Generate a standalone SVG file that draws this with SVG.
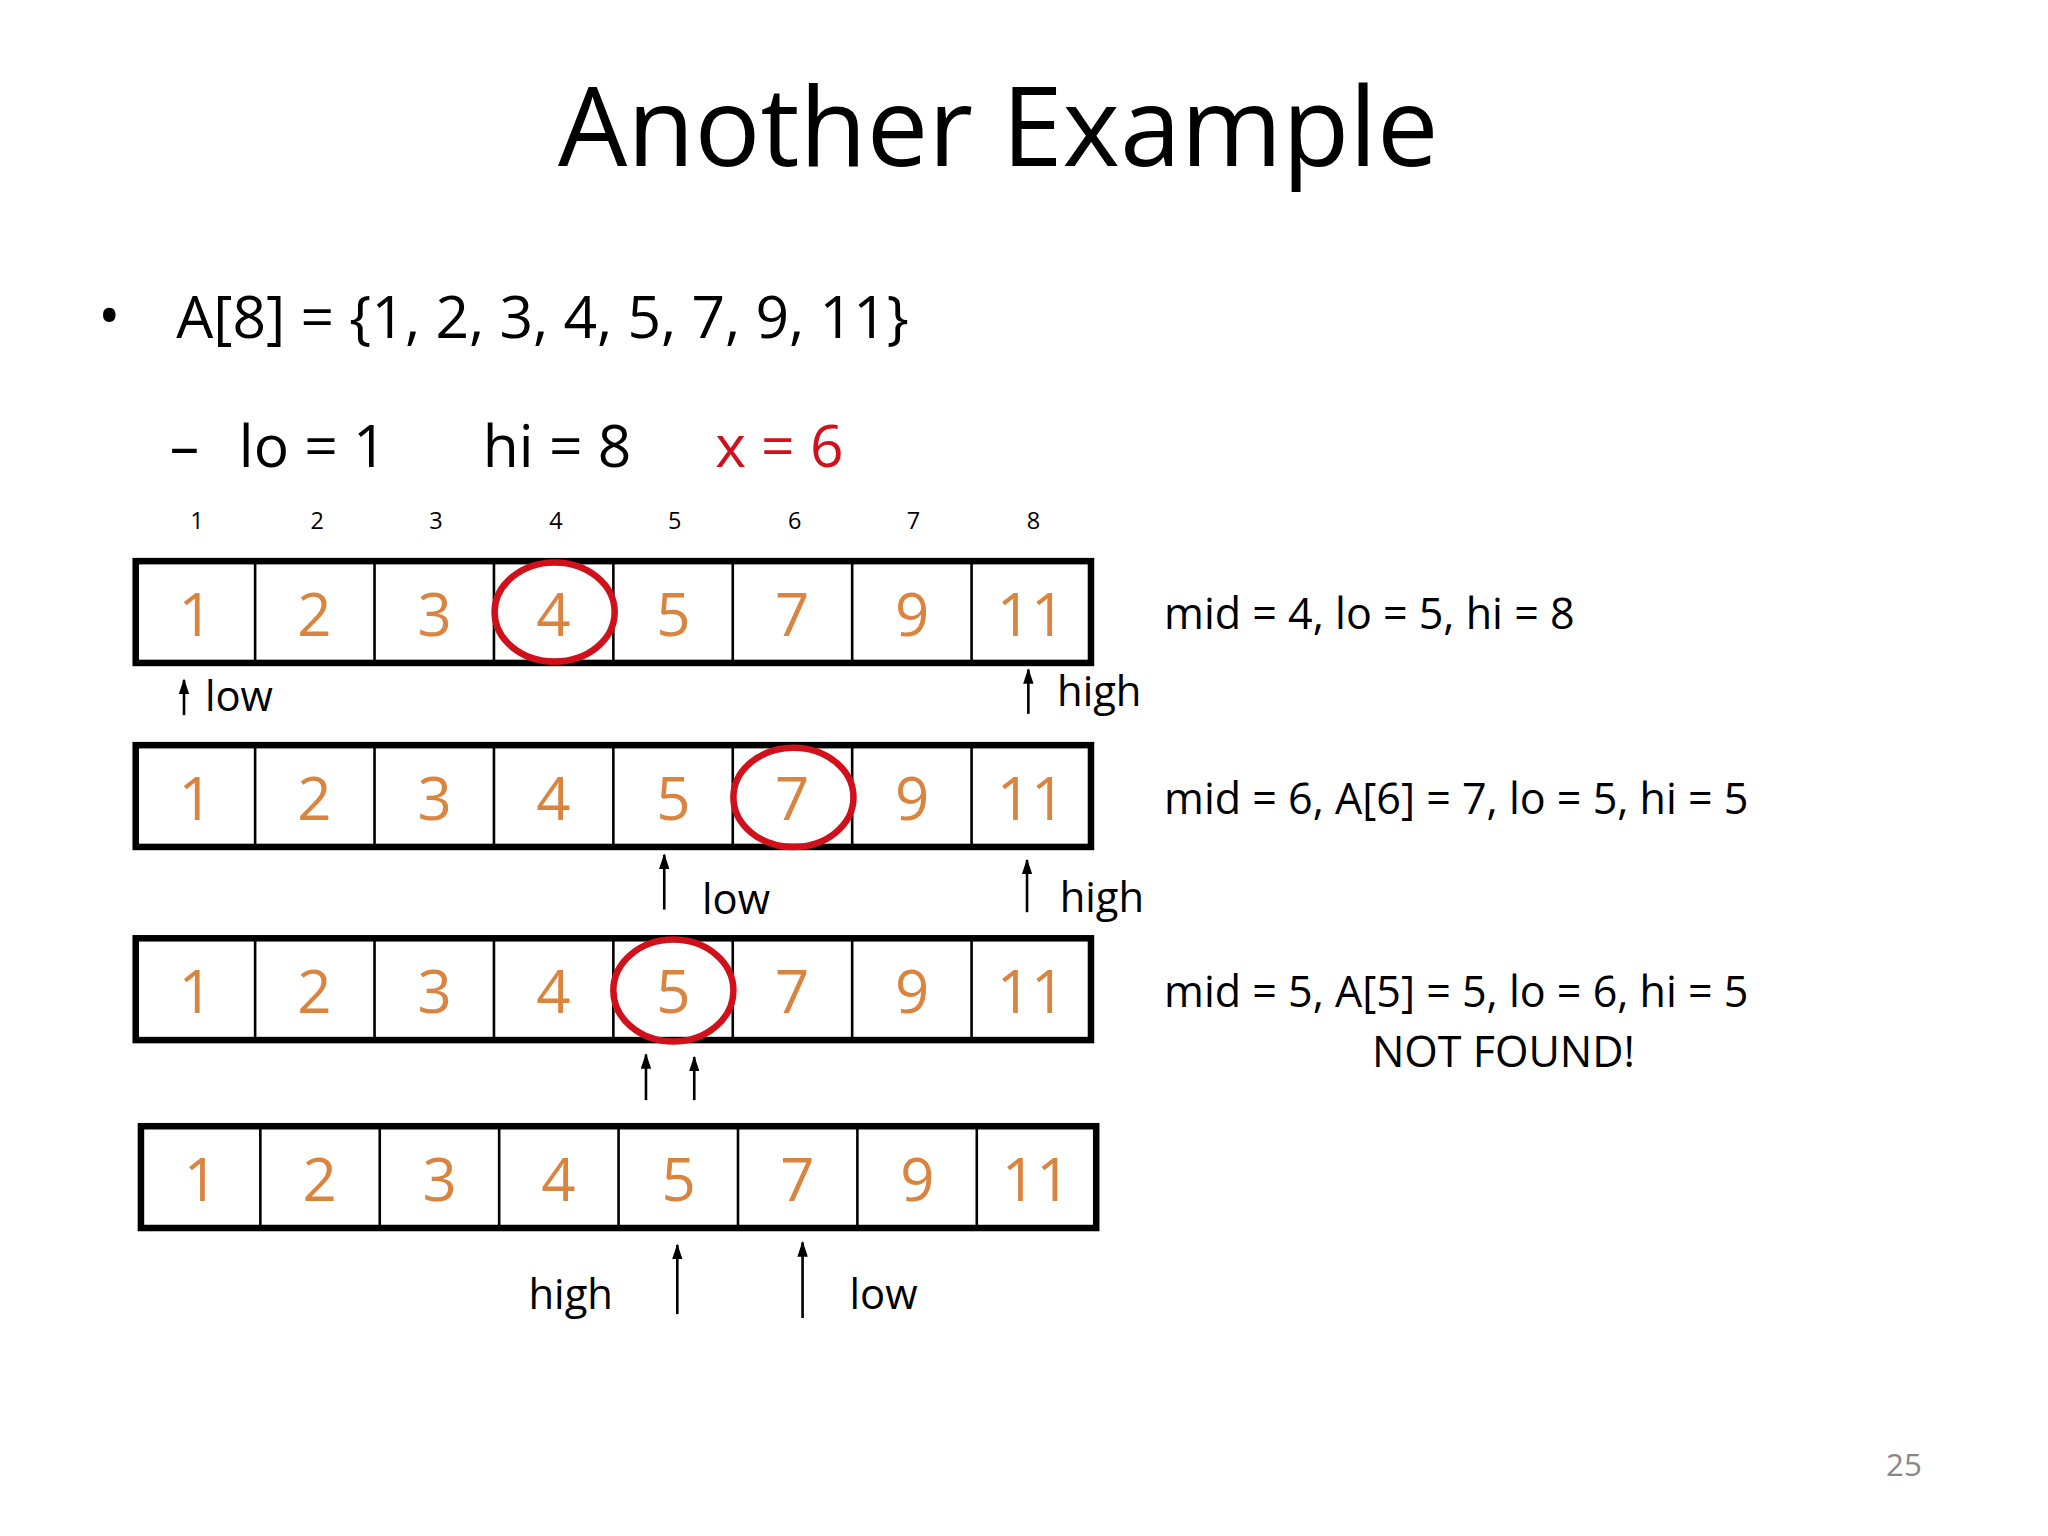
<svg xmlns="http://www.w3.org/2000/svg" width="2048" height="1536" viewBox="0 0 2048 1536">
<style>
text{font-family:"Open Sans","Liberation Sans",sans-serif;fill:#000}
.d{fill:#D9843F;font-size:46px;text-anchor:middle}
.i{font-size:18px;text-anchor:middle}
.m{font-size:33px}
.box{fill:#fff;stroke:#000;stroke-width:5}
.cell{stroke:#000;stroke-width:2}
.c{fill:none;stroke:#D0101A;stroke-width:5}
.a{stroke:#000;stroke-width:2;marker-end:url(#ah)}
</style>
<defs>
<marker id="ah" markerWidth="12" markerHeight="8" refX="11" refY="4" orient="auto" markerUnits="userSpaceOnUse" viewBox="0 0 12 8"><path d="M0,0 L12,4 L0,8 Z" fill="#000"/></marker>
<g id="row">
<rect class="box" x="0" y="0" width="732" height="78"/>
<line class="cell" x1="91.5" y1="0" x2="91.5" y2="78"/><line class="cell" x1="183" y1="0" x2="183" y2="78"/><line class="cell" x1="274.5" y1="0" x2="274.5" y2="78"/><line class="cell" x1="366" y1="0" x2="366" y2="78"/><line class="cell" x1="457.5" y1="0" x2="457.5" y2="78"/><line class="cell" x1="549" y1="0" x2="549" y2="78"/><line class="cell" x1="640.5" y1="0" x2="640.5" y2="78"/>
<text class="d" x="46" y="57">1</text><text class="d" x="137" y="57">2</text><text class="d" x="229" y="57">3</text><text class="d" x="320" y="57">4</text><text class="d" x="412" y="57">5</text><text class="d" x="503" y="57">7</text><text class="d" x="595" y="57">9</text><text class="d" x="686" y="57">11</text>
</g>
</defs>
<rect width="2048" height="1536" fill="#fff"/>
<g transform="scale(1.305)">
<g id="title"><text x="765" y="127" font-size="84" text-anchor="middle">Another Example</text></g>
<g id="bullets">
<text x="75" y="258" font-size="46">•</text>
<text x="135" y="259" font-size="45">A[8] = {1, 2, 3, 4, 5, 7, 9, 11}</text>
<text x="130" y="358" font-size="45">–</text>
<text x="183" y="358" font-size="45">lo = 1</text>
<text x="370" y="358" font-size="45">hi = 8</text>
<text x="548" y="358" font-size="45" style="fill:#D0101A">x = 6</text>
</g>
<g id="indices">
<text class="i" x="151" y="405">1</text><text class="i" x="243" y="405">2</text><text class="i" x="334" y="405">3</text><text class="i" x="426" y="405">4</text><text class="i" x="517" y="405">5</text><text class="i" x="609" y="405">6</text><text class="i" x="700" y="405">7</text><text class="i" x="792" y="405">8</text>
</g>
<g id="row1"><use href="#row" x="104" y="430"/><ellipse class="c" cx="425" cy="469" rx="46" ry="38"/></g>
<g id="row2"><use href="#row" x="104" y="571"/><ellipse class="c" cx="608" cy="611" rx="46" ry="38"/></g>
<g id="row3"><use href="#row" x="104" y="719"/><ellipse class="c" cx="516" cy="759" rx="46" ry="39"/></g>
<g id="row4"><use href="#row" x="108" y="863"/></g>
<g id="connectors">
<line class="a" x1="141" y1="548" x2="141" y2="521"/>
<line class="a" x1="788" y1="547" x2="788" y2="513"/>
<line class="a" x1="509" y1="697" x2="509" y2="655"/>
<line class="a" x1="787" y1="699" x2="787" y2="659"/>
<line class="a" x1="495" y1="843" x2="495" y2="808"/>
<line class="a" x1="532" y1="843" x2="532" y2="810"/>
<line class="a" x1="519" y1="1007" x2="519" y2="954"/>
<line class="a" x1="615" y1="1010" x2="615" y2="952"/>
</g>
<g id="labels">
<text x="157" y="545" font-size="32">low</text>
<text x="810" y="541" font-size="32">high</text>
<text x="538" y="700" font-size="32">low</text>
<text x="812" y="699" font-size="32">high</text>
<text x="405" y="1003" font-size="32">high</text>
<text x="651" y="1003" font-size="32">low</text>
<text class="m" x="892" y="482">mid = 4, lo = 5, hi = 8</text>
<text class="m" x="892" y="624">mid = 6, A[6] = 7, lo = 5, hi = 5</text>
<text class="m" x="892" y="772">mid = 5, A[5] = 5, lo = 6, hi = 5</text>
<text class="m" x="1152" y="818" text-anchor="middle">NOT FOUND!</text>
<text x="1459" y="1131" font-size="24" text-anchor="middle" style="fill:#888">25</text>
</g>
</g>
</svg>
